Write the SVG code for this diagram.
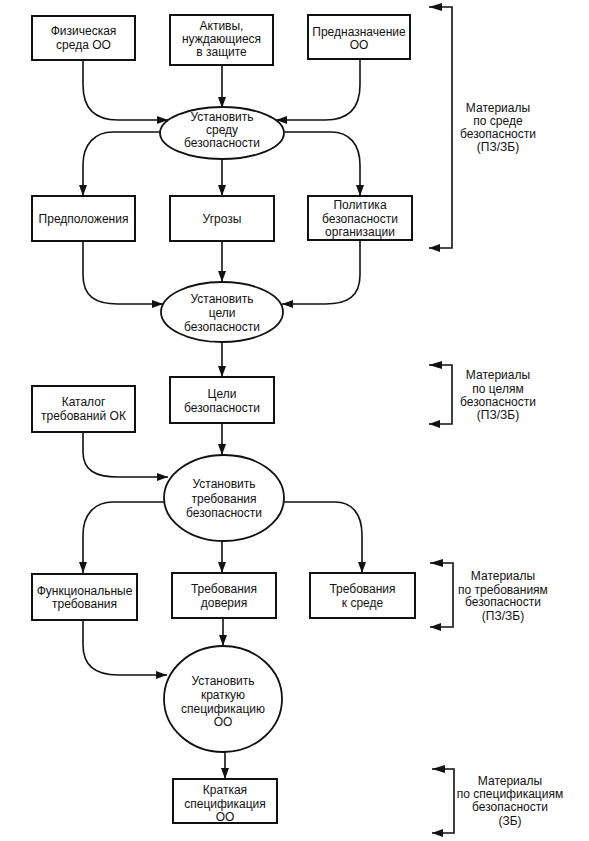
<svg xmlns="http://www.w3.org/2000/svg" width="589" height="841" viewBox="0 0 589 841">
<style>
.box{fill:#fff;stroke:#111;stroke-width:2}
.ell{fill:#fff;stroke:#111;stroke-width:1.8}
.con{fill:none;stroke:#111;stroke-width:1.6}
.brk{fill:none;stroke:#111;stroke-width:1.6;marker-start:url(#ahs);marker-end:url(#ah)}
text{font-family:"Liberation Sans",Arial,sans-serif;font-size:12px;fill:#111;text-anchor:middle}
</style>
<defs>
<marker id="ah" markerUnits="userSpaceOnUse" markerWidth="12" markerHeight="8" refX="11" refY="4" orient="auto">
<path d="M0,0 L11,4 L0,8 z" fill="#111"/>
</marker>
<marker id="ahs" markerUnits="userSpaceOnUse" markerWidth="14" markerHeight="8" refX="13" refY="4" orient="auto-start-reverse">
<path d="M0,0 L13,4 L0,8 z" fill="#111"/>
</marker>
</defs>
<rect width="589" height="841" fill="#fff"/>

<g id="connectors">
<path class="con" marker-end="url(#ah)" d="M83,60 V85 C83,108 95,120 118,120 H168"/>
<path class="con" marker-end="url(#ah)" d="M222,65 V108"/>
<path class="con" marker-end="url(#ah)" d="M360,59 V85 C360,108 348,120 325,120 H276"/>
<path class="con" marker-end="url(#ah)" d="M161,132 H113 C95,132 83,144 83,165 V196"/>
<path class="con" marker-end="url(#ah)" d="M222,159 V196"/>
<path class="con" marker-end="url(#ah)" d="M283,132 H331 C349,132 360,144 360,165 V196"/>
<path class="con" marker-end="url(#ah)" d="M83,241 V275 C83,296 95,304 118,304 H163"/>
<path class="con" marker-end="url(#ah)" d="M222,241 V282"/>
<path class="con" marker-end="url(#ah)" d="M360,240 V275 C360,296 348,304 325,304 H282"/>
<path class="con" marker-end="url(#ah)" d="M222,342 V377"/>
<path class="con" marker-end="url(#ah)" d="M222,423 V455"/>
<path class="con" marker-end="url(#ah)" d="M83,432 V452 C83,470 95,477 118,477 H168"/>
<path class="con" marker-end="url(#ah)" d="M165,502 H113 C95,502 83,514 83,535 V573"/>
<path class="con" marker-end="url(#ah)" d="M222,541 V573"/>
<path class="con" marker-end="url(#ah)" d="M283,502 H335 C352,502 362,514 362,535 V573"/>
<path class="con" marker-end="url(#ah)" d="M83,620 V645 C83,665 95,675 118,675 H167"/>
<path class="con" marker-end="url(#ah)" d="M223,618 V646"/>
<path class="con" marker-end="url(#ah)" d="M225,752 V779"/>
<path class="brk" d="M429,7 H452 V248 H429"/>
<path class="brk" d="M429,365 H452 V424 H429"/>
<path class="brk" d="M430,563 H453 V627 H430"/>
<path class="brk" d="M432,769 H454 V833 H432"/>
</g>

<g id="n_fiz"><rect class="box" x="32" y="16" width="103" height="44"/><text x="83.5" y="35">Физическая</text><text x="83.5" y="48.5">среда ОО</text></g>
<g id="n_aktivy"><rect class="box" x="170" y="15" width="103" height="50"/><text x="221.5" y="29.5">Активы,</text><text x="221.5" y="42.5">нуждающиеся</text><text x="221.5" y="55.5">в защите</text></g>
<g id="n_pred"><rect class="box" x="308" y="15" width="102" height="44"/><text x="359" y="35.5">Предназначение</text><text x="359" y="48.5">ОО</text></g>

<g id="n_e1"><ellipse class="ell" cx="222" cy="133" rx="62" ry="26"/><text x="222" y="120.5">Установить</text><text x="222" y="134">среду</text><text x="222" y="146.5">безопасности</text></g>

<g id="n_predpol"><rect class="box" x="32" y="196" width="103" height="45"/><text x="83.5" y="223">Предположения</text></g>
<g id="n_ugrozy"><rect class="box" x="170" y="196" width="104" height="45"/><text x="222" y="223">Угрозы</text></g>
<g id="n_polit"><rect class="box" x="308" y="196" width="104" height="44"/><text x="360" y="208.5">Политика</text><text x="360" y="222.5">безопасности</text><text x="360" y="236">организации</text></g>

<g id="n_e2"><ellipse class="ell" cx="222" cy="312" rx="61" ry="30"/><text x="222" y="302.5">Установить</text><text x="222" y="317">цели</text><text x="222" y="330.5">безопасности</text></g>

<g id="n_tseli"><rect class="box" x="170" y="377" width="104" height="46"/><text x="222" y="397.5">Цели</text><text x="222" y="411.5">безопасности</text></g>
<g id="n_katalog"><rect class="box" x="32" y="386" width="103" height="46"/><text x="83.5" y="406">Каталог</text><text x="83.5" y="419.5">требований ОК</text></g>

<g id="n_e3"><ellipse class="ell" cx="224" cy="498" rx="60" ry="43"/><text x="224" y="487.5">Установить</text><text x="224" y="502.5">требования</text><text x="224" y="516.5">безопасности</text></g>

<g id="n_funk"><rect class="box" x="32" y="574" width="105" height="46"/><text x="84.5" y="594.5">Функциональные</text><text x="84.5" y="608">требования</text></g>
<g id="n_dov"><rect class="box" x="172" y="573" width="104" height="45"/><text x="224" y="593">Требования</text><text x="224" y="607">доверия</text></g>
<g id="n_sreda"><rect class="box" x="310" y="573" width="105" height="45"/><text x="362.5" y="593">Требования</text><text x="362.5" y="606.5">к среде</text></g>

<g id="n_e4"><ellipse class="ell" cx="223" cy="699" rx="59" ry="53"/><text x="223" y="684.5">Установить</text><text x="223" y="698.5">краткую</text><text x="223" y="712.5">спецификацию</text><text x="223" y="725.5">ОО</text></g>

<g id="n_kratk"><rect class="box" x="173" y="779" width="104" height="44"/><text x="225" y="794">Краткая</text><text x="225" y="807.5">спецификация</text><text x="225" y="820.5">ОО</text></g>

<g id="lbl_1"><text x="498" y="111.5">Материалы</text><text x="498" y="124.5">по среде</text><text x="498" y="137.5">безопасности</text><text x="498" y="150.5">(ПЗ/ЗБ)</text></g>
<g id="lbl_2"><text x="498" y="378.5">Материалы</text><text x="498" y="392.5">по целям</text><text x="498" y="405.5">безопасности</text><text x="498" y="418.5">(ПЗ/ЗБ)</text></g>
<g id="lbl_3"><text x="503" y="580">Материалы</text><text x="503" y="593.5">по требованиям</text><text x="503" y="606">безопасности</text><text x="503" y="620">(ПЗ/ЗБ)</text></g>
<g id="lbl_4"><text x="510" y="784.5">Материалы</text><text x="510" y="798">по спецификациям</text><text x="510" y="810.5">безопасности</text><text x="510" y="824.5">(ЗБ)</text></g>
</svg>
